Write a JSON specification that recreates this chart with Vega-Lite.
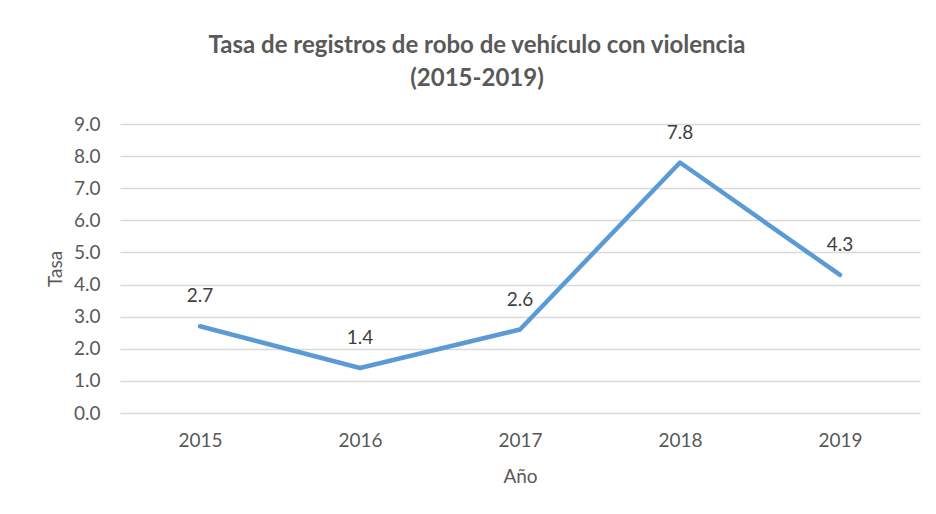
{
  "$schema": "https://vega.github.io/schema/vega-lite/v6.json",
  "width": 800,
  "height": 289,
  "autosize": {"type": "none"},
  "padding": {"left": 120, "top": 124, "right": 16, "bottom": 101},
  "background": "white",
  "title": {
    "text": ["Tasa de registros de robo de vehículo con violencia", "(2015-2019)"],
    "font": "Lato",
    "fontSize": 24,
    "fontWeight": "bold",
    "color": "#595959",
    "anchor": "middle",
    "dx": -43,
    "offset": 24,
    "lineHeight": 33
  },
  "config": {
    "view": {"stroke": null},
    "font": "Lato"
  },
  "data": {
    "values": [
      {"Año": "2015", "Tasa": 2.7},
      {"Año": "2016", "Tasa": 1.4},
      {"Año": "2017", "Tasa": 2.6},
      {"Año": "2018", "Tasa": 7.8},
      {"Año": "2019", "Tasa": 4.3}
    ]
  },
  "encoding": {
    "x": {
      "field": "Año",
      "type": "ordinal",
      "scale": {"paddingInner": 0, "paddingOuter": 0},
      "axis": {
        "labelAngle": 0,
        "domain": false,
        "ticks": false,
        "labelFontSize": 19,
        "labelColor": "#595959",
        "labelFont": "Lato",
        "labelPadding": 18,
        "title": "Año",
        "titleFontSize": 19,
        "titleFontWeight": "normal",
        "titleColor": "#595959",
        "titlePadding": 17,
        "grid": false
      }
    },
    "y": {
      "field": "Tasa",
      "type": "quantitative",
      "scale": {"domain": [0, 9]},
      "axis": {
        "values": [0, 1, 2, 3, 4, 5, 6, 7, 8, 9],
        "format": ".1f",
        "domain": false,
        "ticks": false,
        "labelFontSize": 19,
        "labelColor": "#595959",
        "labelPadding": 20,
        "gridColor": "#d9d9d9",
        "gridWidth": 1.5,
        "title": "Tasa",
        "titleFontSize": 19,
        "titleFontWeight": "normal",
        "titleColor": "#595959",
        "titlePadding": 8
      }
    }
  },
  "layer": [
    {
      "mark": {"type": "line", "color": "#5B9BD5", "strokeWidth": 4.5, "strokeCap": "round", "strokeJoin": "round"}
    },
    {
      "mark": {"type": "text", "dy": -30, "fontSize": 19, "color": "#404040"},
      "encoding": {"text": {"field": "Tasa", "type": "quantitative", "format": ".1f"}}
    }
  ]
}
